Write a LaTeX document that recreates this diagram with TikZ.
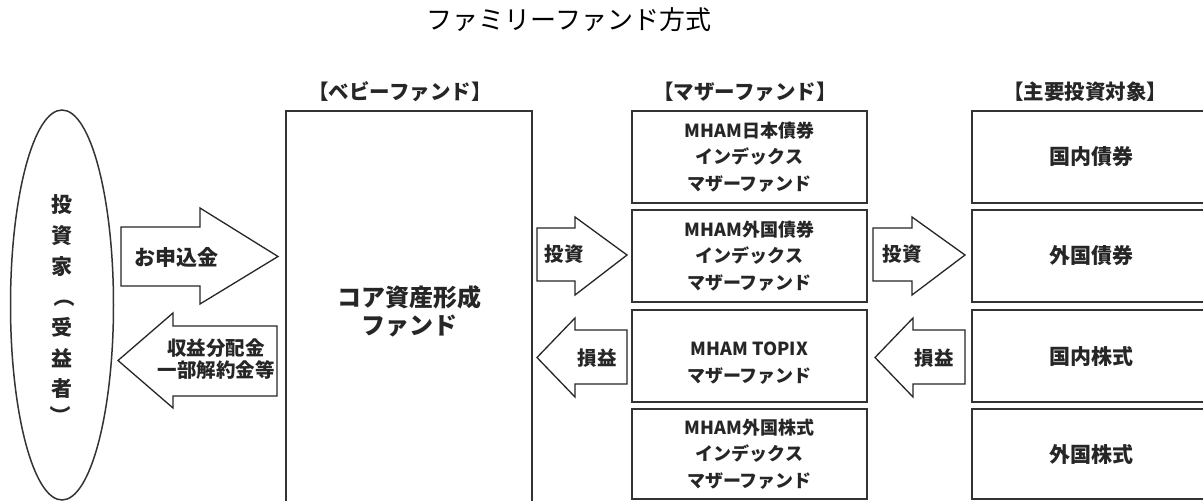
\documentclass[tikz,border=0pt]{standalone}
\usepackage{fontspec}
\newfontfamily\cjk{Noto Sans CJK JP}
\usetikzlibrary{shapes.geometric}
\begin{document}
\begin{tikzpicture}[x=1pt,y=-1pt,
  box/.style={draw=black!80, line width=1.6pt, fill=white, inner sep=0pt},
  blk/.style={draw=black!85, line width=1.3pt, fill=white, line join=miter},
  txt/.style={font=\cjk\bfseries\fontsize{18}{26.5}\selectfont, align=center, text=black!85, inner sep=0pt},
  tgt/.style={font=\cjk\bfseries\fontsize{21}{24}\selectfont, text=black!85, inner sep=0pt},
  lbl/.style={font=\cjk\bfseries\fontsize{19.5}{22}\selectfont, align=center, text=black!85, inner sep=0pt},
  vch/.style={font=\cjk\bfseries\fontsize{21}{24}\selectfont, text=black!85, inner sep=0pt},
  hdr/.style={font=\cjk\bfseries\fontsize{20.5}{22}\selectfont, text=black!85, inner sep=0pt}]
\useasboundingbox (0,0) rectangle (1203,501);
\fill[white] (0,0) rectangle (1203,501);

\node[font=\cjk\fontsize{26}{30}\selectfont, inner sep=0pt] (title) at (569,20) {ファミリーファンド方式};

% headers
\node[hdr] (h1) at (400,92) {【ベビーファンド】};
\node[hdr] (h2) at (745,92) {【マザーファンド】};
\node[hdr] (h3) at (1085,92) {【主要投資対象】};

% investor ellipse
\node[ellipse, draw=black!80, line width=1.5pt, minimum width=103pt, minimum height=390pt, inner sep=0pt] (inv) at (62,305) {};
\node[vch] (v1) at (62,205) {投};
\node[vch] (v2) at (62,236) {資};
\node[vch] (v3) at (62,267) {家};
\node[vch, rotate=-90] (v4) at (64,297) {（};
\node[vch] (v5) at (62,327) {受};
\node[vch] (v6) at (62,358) {益};
\node[vch] (v7) at (62,389) {者};
\node[vch, rotate=-90] (v8) at (60,416) {）};

% baby fund
\node[box, minimum width=246pt, minimum height=392pt] (baby) at (409,307) {};
\node[font=\cjk\bfseries\fontsize{24}{28}\selectfont, align=center, text=black!85, inner sep=0pt] (babyt) at (409,311) {コア資産形成\\ファンド};

% mother funds
\node[box, minimum width=235pt, minimum height=92pt] (m1) at (749.5,157) {};
\node[box, minimum width=235pt, minimum height=92pt] (m2) at (749.5,256) {};
\node[box, minimum width=235pt, minimum height=92pt] (m3) at (749.5,356) {};
\node[box, minimum width=235pt, minimum height=90pt] (m4) at (749.5,454) {};
\node[txt] (m1t) at (m1) {MHAM日本債券\\インデックス\\マザーファンド};
\node[txt] (m2t) at (m2) {MHAM外国債券\\インデックス\\マザーファンド};
\node[txt] (m3t) at ([yshift=-7pt]m3.center) {MHAM TOPIX\\マザーファンド};
\node[txt] (m4t) at (m4) {MHAM外国株式\\インデックス\\マザーファンド};

% targets
\node[box, minimum width=238pt, minimum height=92pt] (t1) at (1091,157) {};
\node[box, minimum width=238pt, minimum height=92pt] (t2) at (1091,256) {};
\node[box, minimum width=238pt, minimum height=92pt] (t3) at (1091,356) {};
\node[box, minimum width=238pt, minimum height=90pt] (t4) at (1091,454) {};
\node[tgt] (t1t) at (t1) {国内債券};
\node[tgt] (t2t) at (t2) {外国債券};
\node[tgt] (t3t) at (t3) {国内株式};
\node[tgt] (t4t) at (t4) {外国株式};

% block arrows
\draw[blk] (121,227) -- (200,227) -- (200,208) -- (278,256.5) -- (200,304) -- (200,286) -- (121,286) -- cycle;
\node[lbl, font=\cjk\bfseries\fontsize{21}{22}\selectfont] (a1) at (176,257) {お申込金};

\draw[blk] (277,326) -- (173,326) -- (173,313) -- (118,360.5) -- (173,408) -- (173,396) -- (277,396) -- cycle;
\node[lbl, font=\cjk\bfseries\fontsize{19.5}{22.5}\selectfont] (a2) at (216,359) {収益分配金\\一部解約金等};

\draw[blk] (537,228) -- (575,228) -- (575,217) -- (627,255) -- (575,295) -- (575,281) -- (537,281) -- cycle;
\node[lbl] (a3) at (564,254) {投資};

\draw[blk] (873,228) -- (912,228) -- (912,217) -- (965,255) -- (912,295) -- (912,281) -- (873,281) -- cycle;
\node[lbl] (a4) at (902,254) {投資};

\draw[blk] (627,330) -- (575,330) -- (575,318) -- (537,357.5) -- (575,397) -- (575,384) -- (627,384) -- cycle;
\node[lbl] (a5) at (597,358) {損益};

\draw[blk] (965,330) -- (913,330) -- (913,318) -- (875,357.5) -- (913,397) -- (913,384) -- (965,384) -- cycle;
\node[lbl] (a6) at (934,358) {損益};
\end{tikzpicture}
\end{document}
